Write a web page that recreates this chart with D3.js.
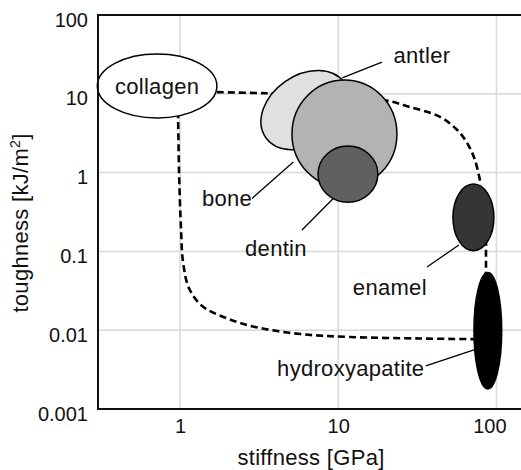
<!DOCTYPE html>
<html><head><meta charset="utf-8">
<script src="https://cdn.jsdelivr.net/npm/d3@7"></script>
<style>
body{margin:0;background:#fff}
text{font-family:"Liberation Sans",Arial,Helvetica,sans-serif;fill:#111}
</style>
</head><body>
<svg id="chart" width="521" height="470"></svg>
<script>
// ---- data (stiffness in GPa, toughness in kJ/m^2) ----
const xTickValues = [1, 10, 100];
const xTickLabels = ["1", "10", "100"];
const yTickValues = [0.001, 0.01, 0.1, 1, 10, 100];
const yTickLabels = ["0.001", "0.01", "0.1", "1", "10", "100"];

const materials = ["collagen", "antler", "bone", "dentin", "enamel", "hydroxyapatite"];
const stiffLo  = [0.30, 3.07, 5.1, 7.45, 53.1, 72.1];
const stiffHi  = [1.71, 12.4, 23.5, 17.8, 96.4, 108];
const toughLo  = [4.93, 2.24, 0.64, 0.42, 0.102, 0.0018];
const toughHi  = [32, 17.2, 15.0, 2.18, 0.716, 0.054];

// label anchors (data coords)
const labelStiff = [0.716, 33.8, 1.98, 4.04, 21.2, 12.0];
const labelTough = [12.6, 31, 0.476, 0.110, 0.0353, 0.00331];
// leader lines (data coords)
const leadStiff1 = [null, 18.9, 2.85, 5.9, 36.4, 35.8];
const leadTough1 = [null, 25.3, 0.47, 0.187, 0.0634, 0.00352];
const leadStiff2 = [null, 10.6, 5.2, 9.3, 57.9, 72.1];
const leadTough2 = [null, 15.9, 1.36, 0.47, 0.1205, 0.00561];

// dashed envelope
const upperStiff = [1.71, 3.3, 7.67, 19.7, 28.4, 44, 56.3, 65.1, 73.1, 79.8];
const upperTough = [10.5, 10.2, 9.9, 8.3, 6.8, 5.1, 3.5, 2.4, 1.45, 0.70];
const midStiff = [85.9, 85.9];
const midTough = [0.2, 0.05];
const lowerStiff = [0.971, 0.986, 1.015, 1.045, 1.14, 1.38, 1.95, 2.98, 5.73, 11.9, 32.8, 72.1];
const lowerTough = [6.0, 1.02, 0.187, 0.073, 0.034, 0.0203, 0.0143, 0.011, 0.00895, 0.0082, 0.00785, 0.0077];

// ---- styles ----
const fills = ["#ffffff", "#e0e0e0", "#b3b3b3", "#606060", "#353535", "#000000"];
const rotations = [0, -35, 0, 0, 0, 0];

const svg = d3.select("#chart");
const L = 98, R = 521, T = 15, B = 409;
const x = d3.scaleLog().domain([0.303, 143]).range([L, R]);
const y = d3.scaleLog().domain([0.001, 100]).range([B, T]);

// grid
const grid = svg.append("g");
grid.selectAll(".gx").data(xTickValues).join("line")
  .attr("x1", d => x(d)).attr("x2", d => x(d)).attr("y1", T).attr("y2", B)
  .attr("stroke", "#d9d9d9").attr("stroke-width", 1.5);
grid.selectAll(".gy").data(yTickValues.filter(v => v > 0.001 && v < 100)).join("line")
  .attr("x1", L).attr("x2", R).attr("y1", d => y(d)).attr("y2", d => y(d))
  .attr("stroke", "#d9d9d9").attr("stroke-width", 1.5);

// dashed envelope
const line = d3.line().x(d => x(d[0])).y(d => y(d[1])).curve(d3.curveCatmullRom.alpha(0.5));
const dashed = [
  d3.zip(upperStiff, upperTough),
  d3.zip(midStiff, midTough),
  d3.zip(lowerStiff, lowerTough)
];
svg.append("g").selectAll("path").data(dashed).join("path")
  .attr("d", line).attr("fill", "none").attr("stroke", "#000")
  .attr("stroke-width", 2.6).attr("stroke-dasharray", "7,4");

// ellipses
const ell = svg.append("g");
materials.forEach((m, i) => {
  const x0 = x(stiffLo[i]), x1 = x(stiffHi[i]);
  const y0 = y(toughHi[i]), y1 = y(toughLo[i]);
  const cx = (x0 + x1) / 2, cy = (y0 + y1) / 2;
  ell.append("ellipse")
    .attr("cx", cx).attr("cy", cy)
    .attr("rx", (x1 - x0) / 2).attr("ry", (y1 - y0) / 2)
    .attr("transform", rotations[i] ? `rotate(${rotations[i]},${cx},${cy})` : null)
    .attr("fill", fills[i]).attr("stroke", "#000").attr("stroke-width", 1.5);
});

// leader lines
const lead = svg.append("g");
materials.forEach((m, i) => {
  if (leadStiff1[i] == null) return;
  lead.append("line")
    .attr("x1", x(leadStiff1[i])).attr("y1", y(leadTough1[i]))
    .attr("x2", x(leadStiff2[i])).attr("y2", y(leadTough2[i]))
    .attr("stroke", "#000").attr("stroke-width", 1.3);
});

// labels
svg.append("g").selectAll("text").data(materials).join("text")
  .attr("x", (d, i) => x(labelStiff[i])).attr("y", (d, i) => y(labelTough[i]))
  .attr("dy", "0.35em").attr("text-anchor", "middle")
  .style("font-size", "22px").style("letter-spacing", "0.3px")
  .text(d => d);

// axes
const xAxis = svg.append("g").attr("transform", `translate(0,${B})`)
  .call(d3.axisBottom(x).tickValues(xTickValues).tickFormat((d, i) => xTickLabels[i]).tickSize(0).tickPadding(10));
const yAxis = svg.append("g").attr("transform", `translate(${L},0)`)
  .call(d3.axisLeft(y).tickValues(yTickValues).tickFormat((d, i) => yTickLabels[i]).tickSize(0).tickPadding(10));
[xAxis, yAxis].forEach(a => {
  a.select(".domain").remove();
  a.selectAll("text").style("font-size", "20px").attr("fill", "#111").style("font-family", '"Liberation Sans",Arial,sans-serif');
});
yAxis.selectAll("text").attr("dy", "0.55em");
xAxis.selectAll("text").filter((d, i) => i === xTickValues.length - 1).attr("dx", "-7");

// frame
const frame = svg.append("g").attr("stroke", "#111").attr("stroke-width", 2);
frame.append("line").attr("x1", L).attr("x2", R).attr("y1", T).attr("y2", T);
frame.append("line").attr("x1", L).attr("x2", R).attr("y1", B).attr("y2", B);
frame.append("line").attr("x1", L).attr("x2", L).attr("y1", T - 1).attr("y2", B + 1);

// axis titles
svg.append("text").attr("x", 311).attr("y", 465).attr("text-anchor", "middle")
  .style("font-size", "22px").style("letter-spacing", "0.3px").text("stiffness [GPa]");
const yt = svg.append("text").attr("transform", "translate(28,223) rotate(-90)")
  .attr("text-anchor", "middle").style("font-size", "22px").style("letter-spacing", "0.3px");
yt.append("tspan").text("toughness [kJ/m");
yt.append("tspan").attr("dy", "-8").style("font-size", "14px").text("2");
yt.append("tspan").attr("dy", "8").text("]");
</script>
</body></html>
